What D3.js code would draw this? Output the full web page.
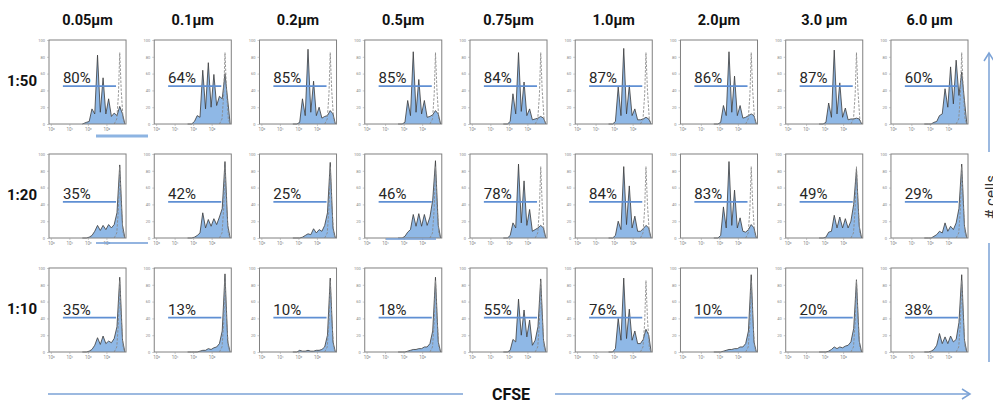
<!DOCTYPE html>
<html lang="en">
<head>
<meta charset="UTF-8">
<title>CFSE dilution by bead size and ratio</title>
<script src="https://d3js.org/d3.v7.min.js"></script>
<style>
  body { margin: 0; background: #fff; font-family: Roboto, Arial, sans-serif; }
  svg { display: block; }
</style>
</head>
<body>
<div id="container"></div>
<script>
// bead sizes (columns) and ratios (rows)
const sizes = ['0.05µm', '0.1µm', '0.2µm', '0.5µm', '0.75µm', '1.0µm', '2.0µm', '3.0 µm', '6.0 µm'];
const ratios = ['1:50', '1:20', '1:10'];

// % divided, one per column
const pct50 = [80, 64, 85, 85, 84, 87, 86, 87, 60];
const pct20 = [35, 42, 25, 46, 78, 84, 83, 49, 29];
const pct10 = [35, 13, 10, 18, 55, 76, 10, 20, 38];

// gate marker: level (% of max) per row, and its CFSE range (log10)
const gateLevel = [45, 43, 41];
const gateRange = [0.65, 3.52];

// CFSE positions (log10) where the curves were read: generation peaks and troughs between
const cfse = [1.7, 1.92, 2.07, 2.22, 2.37, 2.52, 2.67, 2.82, 2.97, 3.12, 3.27, 3.42, 3.57, 3.72, 3.87, 4.0];

// histogram heights at those positions
const hist50 = [
  [0, 2, 3, 18, 12, 82, 14, 55, 12, 30, 9, 13, 10, 21, 12, 0],
  [0, 0, 3, 10, 8, 64, 18, 73, 20, 59, 22, 33, 30, 60, 28, 0],
  [0, 0, 2, 30, 10, 89, 14, 51, 10, 20, 7, 9, 10, 16, 12, 0],
  [0, 0, 2, 28, 10, 86, 14, 53, 12, 28, 8, 9, 11, 16, 12, 0],
  [0, 0, 3, 36, 12, 85, 15, 50, 10, 18, 5, 6, 7, 9, 7, 0],
  [0, 0, 3, 44, 10, 90, 12, 46, 10, 18, 5, 5, 6, 8, 6, 0],
  [0, 0, 2, 22, 10, 86, 14, 57, 10, 22, 7, 8, 10, 12, 10, 0],
  [0, 0, 2, 25, 8, 88, 12, 49, 8, 19, 5, 6, 6, 7, 6, 0],
  [0, 0, 0, 2, 3, 10, 12, 42, 20, 68, 24, 76, 34, 62, 28, 0]
];
const hist20 = [
  [0, 0, 1, 3, 8, 15, 9, 15, 10, 16, 12, 16, 30, 87, 15, 0],
  [0, 0, 1, 3, 6, 30, 12, 22, 14, 23, 16, 25, 35, 91, 15, 0],
  [0, 0, 0, 1, 3, 5, 4, 11, 6, 10, 8, 15, 30, 90, 12, 0],
  [0, 0, 2, 7, 10, 28, 14, 29, 14, 28, 15, 25, 45, 92, 15, 0],
  [0, 0, 3, 18, 12, 88, 18, 68, 15, 34, 8, 10, 12, 15, 12, 0],
  [0, 0, 3, 20, 10, 85, 16, 62, 12, 26, 8, 8, 11, 15, 12, 0],
  [0, 0, 3, 37, 12, 91, 15, 57, 12, 24, 8, 7, 10, 16, 12, 0],
  [0, 0, 1, 7, 8, 27, 12, 25, 12, 23, 12, 20, 40, 82, 14, 0],
  [0, 0, 0, 2, 4, 8, 6, 18, 8, 14, 10, 18, 35, 88, 14, 0]
];
const hist10 = [
  [0, 0, 1, 3, 8, 17, 9, 19, 10, 13, 11, 16, 30, 89, 14, 0],
  [0, 0, 0, 0, 1, 2, 2, 4, 3, 5, 6, 10, 25, 93, 12, 0],
  [0, 0, 2, 1, 1, 2, 1, 1, 2, 2, 3, 6, 20, 88, 12, 0],
  [0, 0, 0, 1, 2, 3, 3, 4, 4, 6, 6, 10, 25, 89, 12, 0],
  [0, 0, 2, 15, 12, 63, 20, 50, 18, 38, 8, 14, 30, 87, 14, 0],
  [0, 0, 4, 40, 14, 88, 16, 51, 14, 25, 10, 10, 15, 27, 20, 0],
  [0, 0, 0, 1, 2, 3, 3, 4, 4, 6, 6, 10, 25, 92, 12, 0],
  [0, 0, 0, 1, 3, 6, 4, 6, 5, 7, 8, 12, 28, 86, 13, 0],
  [0, 0, 1, 3, 8, 22, 10, 18, 10, 19, 12, 15, 35, 92, 14, 0]
];

// undivided control (dashed)
const ctrlX = [3.42, 3.56, 3.65, 3.72, 3.8, 3.9, 3.99];
const ctrlY = [0, 6, 35, 85, 40, 6, 0];

// axis ticks
const yTicks = [0, 20, 40, 60, 80, 100];
const xTicks = [0, 1, 2, 3];
const sup = ['⁰', '¹', '²', '³'];

const W = 993, H = 403;
const svg = d3.select('#container').append('svg')
  .attr('width', W).attr('height', H);

const col = d3.scaleBand().domain(sizes).range([49, 968]).paddingInner(0.268);
const row = d3.scaleBand().domain(ratios).range([40, 352]).paddingInner(0.263);

const x = d3.scaleLinear().domain([-0.1, 4.06]).range([0, col.bandwidth()]);
const y = d3.scaleLinear().domain([0, 100]).range([row.bandwidth(), 0]);

const area = d3.area().x((d, i) => x(cfse[i])).y0(y(0)).y1(d => y(d));
const line = d3.line().x((d, i) => x(cfse[i])).y(d => y(d));
const ctrlLine = d3.line().x((d, i) => x(ctrlX[i])).y(d => y(d));

const pcts = [pct50, pct20, pct10];
const hists = [hist50, hist20, hist10];

const cells = [];
ratios.forEach((r, ri) => {
  sizes.forEach((s, ci) => {
    cells.push({ ratio: r, size: s, ri: ri, pct: pcts[ri][ci], hist: hists[ri][ci] });
  });
});

// column headers
svg.selectAll('.head')
  .data(sizes)
  .enter()
  .append('text')
  .attr('class', 'head')
  .attr('x', d => col(d) + col.bandwidth() / 2)
  .attr('y', 25)
  .attr('text-anchor', 'middle')
  .attr('font-size', 14.5)
  .attr('font-weight', 'bold')
  .attr('fill', '#111')
  .text(d => d);

// row labels
svg.selectAll('.rlab')
  .data(ratios)
  .enter()
  .append('text')
  .attr('class', 'rlab')
  .attr('x', 37)
  .attr('y', d => row(d) + 46)
  .attr('text-anchor', 'end')
  .attr('font-size', 15)
  .attr('font-weight', 'bold')
  .attr('fill', '#111')
  .text(d => d);

const panel = svg.selectAll('.panel')
  .data(cells)
  .enter()
  .append('g')
  .attr('class', 'panel')
  .attr('transform', d => `translate(${col(d.size)},${row(d.ratio)})`);

// filled histogram
panel.append('path')
  .attr('d', d => area(d.hist))
  .attr('fill', '#8fb8e6');

panel.append('path')
  .attr('d', d => line(d.hist))
  .attr('fill', 'none')
  .attr('stroke', '#3a3a3a')
  .attr('stroke-width', 0.8);

// dashed control
panel.append('path')
  .attr('d', ctrlLine(ctrlY))
  .attr('fill', 'none')
  .attr('stroke', '#8a8a8a')
  .attr('stroke-width', 0.9)
  .attr('stroke-dasharray', '2.5,1.5');

// frame
panel.append('rect')
  .attr('width', col.bandwidth())
  .attr('height', row.bandwidth())
  .attr('fill', 'none')
  .attr('stroke', '#808080')
  .attr('stroke-width', 1);

// axes
panel.each(function() {
  const g = d3.select(this);
  const ya = g.append('g')
    .call(d3.axisLeft(y).tickValues(yTicks).tickSize(2).tickPadding(2));
  ya.select('.domain').remove();
  ya.selectAll('line').attr('stroke', '#999').attr('stroke-width', 0.5);
  ya.selectAll('text').attr('font-size', 4).attr('fill', '#888').attr('font-family', 'Roboto, Arial, sans-serif');

  const xa = g.append('g')
    .attr('transform', `translate(0,${row.bandwidth()})`)
    .call(d3.axisBottom(x).tickValues(xTicks).tickSize(2).tickPadding(2).tickFormat(d => '10' + sup[d]));
  xa.select('.domain').remove();
  xa.selectAll('line').attr('stroke', '#999').attr('stroke-width', 0.5);
  xa.selectAll('text').attr('font-size', 4.5).attr('fill', '#888').attr('font-family', 'Roboto, Arial, sans-serif');
});

// gate markers
panel.append('line')
  .attr('x1', x(gateRange[0]))
  .attr('x2', x(gateRange[1]))
  .attr('y1', d => y(gateLevel[d.ri]))
  .attr('y2', d => y(gateLevel[d.ri]))
  .attr('stroke', '#5f8fd3')
  .attr('stroke-width', 1.8);

panel.append('text')
  .attr('x', x(gateRange[0]))
  .attr('y', d => y(gateLevel[d.ri]) - 3)
  .attr('font-size', 15)
  .attr('fill', '#262626')
  .text(d => d.pct + '%');

// stray blue marks from the original figure
const stray = svg.append('g').attr('stroke', '#8db4e2').attr('fill', 'none');
stray.append('line').attr('x1', 96).attr('x2', 148).attr('y1', 136).attr('y2', 136).attr('stroke-width', 3);
stray.append('line').attr('x1', 96).attr('x2', 148).attr('y1', 243).attr('y2', 243).attr('stroke-width', 1.5).attr('stroke', '#6f9bd6');
stray.append('line').attr('x1', 386).attr('x2', 436).attr('y1', 239).attr('y2', 239).attr('stroke-width', 1.5).attr('stroke', '#6f9bd6');

// CFSE axis arrow
const ax = svg.append('g').attr('stroke', '#7ba2d6').attr('stroke-width', 1.5).attr('fill', 'none');
ax.append('line').attr('x1', 48).attr('x2', 463).attr('y1', 394).attr('y2', 394);
ax.append('line').attr('x1', 555).attr('x2', 970).attr('y1', 394).attr('y2', 394);
ax.append('path').attr('d', 'M962,389 L970,394 L962,399');

svg.append('text')
  .attr('x', 511)
  .attr('y', 400)
  .attr('text-anchor', 'middle')
  .attr('font-size', 16)
  .attr('font-weight', 'bold')
  .attr('fill', '#111')
  .text('CFSE');

// # cells arrow
ax.append('line').attr('x1', 989).attr('x2', 989).attr('y1', 53).attr('y2', 152);
ax.append('line').attr('x1', 989).attr('x2', 989).attr('y1', 243).attr('y2', 362);
ax.append('path').attr('d', 'M984,61 L989,53 L994,61');

svg.append('text')
  .attr('transform', 'translate(996,197) rotate(-90)')
  .attr('text-anchor', 'middle')
  .attr('font-size', 15)
  .attr('fill', '#333')
  .text('# cells');
</script>
</body>
</html>
